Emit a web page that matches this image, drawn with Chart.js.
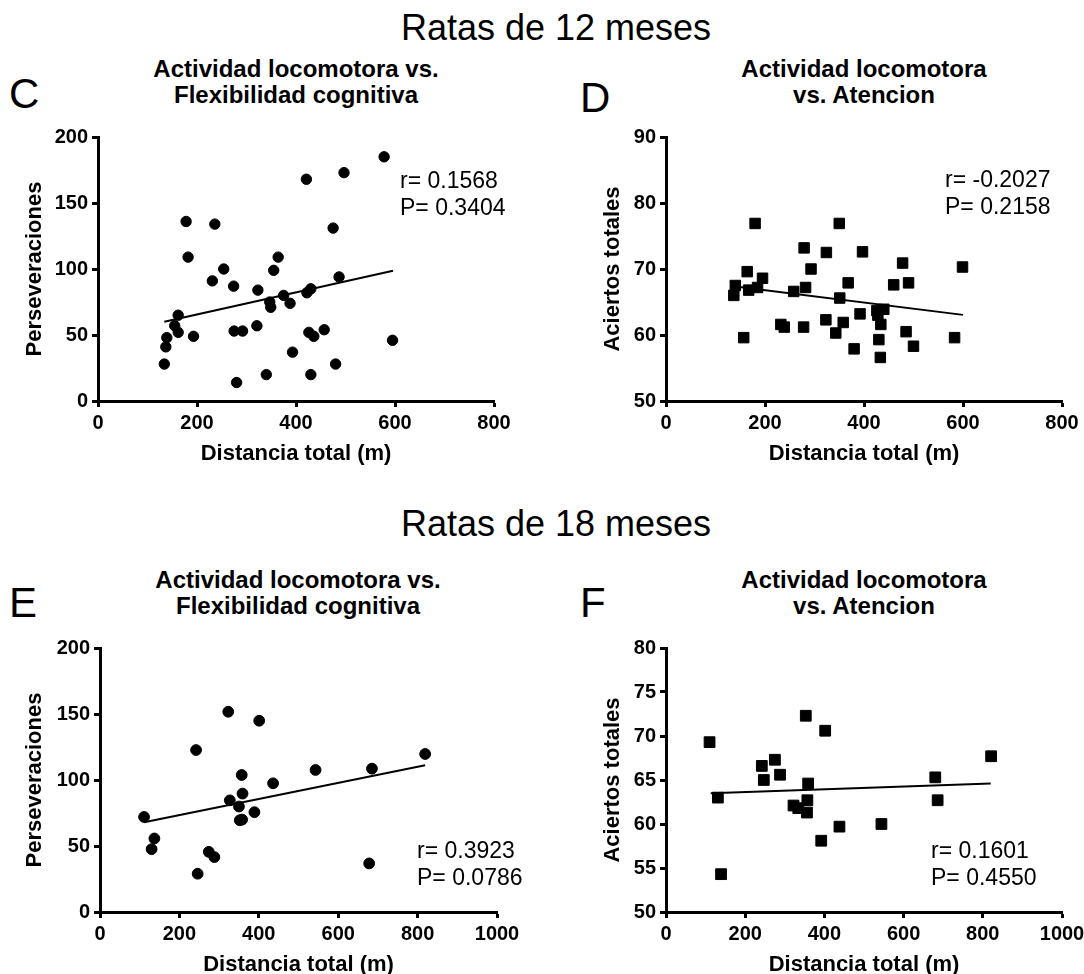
<!DOCTYPE html>
<html>
<head>
<meta charset="utf-8">
<script src="https://cdn.jsdelivr.net/npm/chart.js@4.4.1/dist/chart.umd.min.js"></script>
<style>
    body { margin: 0; background: #fff; }
    #page { position: relative; width: 1084px; height: 974px; overflow: hidden; background: #fff; font-family: 'Liberation Sans', Arial, sans-serif; color: #000; }
    #page canvas { position: absolute; }
    .heading { position: absolute; left: 0; width: 1112px; text-align: center; font-size: 36px; line-height: 36px; }
    .letter { position: absolute; font-size: 42px; line-height: 42px; }
    .panel-title { position: absolute; width: 420px; text-align: center; font-size: 24px; line-height: 26px; font-weight: bold; }
    .stats { position: absolute; font-size: 23px; line-height: 27px; white-space: nowrap; }
</style>
</head>
<body>
<div id="page">
    <div class="heading" style="top: 10px;">Ratas de 12 meses</div>
    <div class="heading" style="top: 506px;">Ratas de 18 meses</div>

    <div class="letter" style="left: 9px; top: 73px;">C</div>
    <div class="letter" style="left: 580px; top: 77px;">D</div>
    <div class="letter" style="left: 9px; top: 582px;">E</div>
    <div class="letter" style="left: 580px; top: 582px;">F</div>

    <div class="panel-title" style="left: 86px; top: 56px;">Actividad locomotora vs.<br>Flexibilidad cognitiva</div>
    <div class="panel-title" style="left: 654px; top: 56px;">Actividad locomotora<br>vs. Atencion</div>
    <div class="panel-title" style="left: 88px; top: 567px;">Actividad locomotora vs.<br>Flexibilidad cognitiva</div>
    <div class="panel-title" style="left: 654px; top: 567px;">Actividad locomotora<br>vs. Atencion</div>

    <canvas id="chartC" width="534" height="360" style="left: 0; top: 117px;"></canvas>
    <canvas id="chartD" width="542" height="360" style="left: 560px; top: 117px;"></canvas>
    <canvas id="chartE" width="537" height="360" style="left: 0; top: 628px;"></canvas>
    <canvas id="chartF" width="542" height="360" style="left: 560px; top: 628px;"></canvas>

    <div class="stats" style="left: 400px; top: 167px;">r= 0.1568<br>P= 0.3404</div>
    <div class="stats" style="left: 945px; top: 166px;">r= -0.2027<br>P= 0.2158</div>
    <div class="stats" style="left: 417px; top: 837px;">r= 0.3923<br>P= 0.0786</div>
    <div class="stats" style="left: 931px; top: 837px;">r= 0.1601<br>P= 0.4550</div>
</div>

<script>
// Ratas de 12 meses - C: distancia vs perseveraciones
const distC = [578, 497, 421, 178, 236, 475, 182, 364, 254, 355, 487, 231, 274, 430, 422, 323, 375, 388, 347, 349,
    162, 155, 162, 139, 137, 134, 193, 275, 292, 321, 426, 436, 457, 393, 595, 480, 340, 430, 280];
const persevC = [185, 173, 168, 136, 134, 131, 109, 109, 100, 99, 94, 91, 87, 85, 82, 84, 80, 74, 75, 71,
    65, 57, 52, 48, 41, 28, 49, 53, 53, 57, 52, 49, 54, 37, 46, 28, 20, 20, 14];
const fitC_x = [134, 596];
const fitC_y = [60.0, 98.6];

// Ratas de 12 meses - D: distancia vs aciertos totales
const distD = [180, 350, 279, 324, 397, 478, 599, 293, 164, 195, 368, 490, 460, 282, 185, 140, 167, 258, 137, 351,
    440, 426, 428, 392, 323, 358, 232, 239, 278, 434, 343, 485, 157, 583, 430, 380, 500, 433];
const aciertosD = [76.9, 76.9, 73.2, 72.5, 72.6, 70.9, 70.3, 70.0, 69.6, 68.6, 67.9, 67.9, 67.6, 67.2, 67.2, 67.5, 66.8, 66.6, 66.0, 65.6,
    63.9, 63.7, 63.0, 63.2, 62.3, 61.9, 61.6, 61.2, 61.2, 61.6, 60.3, 60.5, 59.6, 59.6, 59.3, 57.9, 58.3, 56.6];
const fitD_x = [136, 600];
const fitD_y = [67.4, 63.05];

// Ratas de 18 meses - E: distancia vs perseveraciones
const distE = [242, 819, 685, 543, 357, 436, 359, 327, 350, 389, 111, 352, 358, 137, 130, 274, 288, 246, 678, 323, 401];
const persevE = [122.7, 119.7, 108.6, 107.6, 103.8, 97.5, 89.7, 84.6, 79.9, 75.6, 72.0, 69.5, 70.0, 55.7, 47.6, 45.6, 41.6, 29.0, 36.8, 151.7, 144.9];
const fitE_x = [111, 819];
const fitE_y = [68.0, 111.1];

// Ratas de 18 meses - F: distancia vs aciertos totales
const distF = [353, 402, 110, 275, 242, 288, 247, 359, 821, 680, 686, 131, 357, 322, 334, 356, 438, 544, 392, 139];
const aciertosF = [72.3, 70.6, 69.3, 67.3, 66.6, 65.6, 65.0, 64.6, 67.7, 65.3, 62.7, 63.0, 62.7, 62.1, 61.8, 61.3, 59.7, 60.0, 58.1, 54.3];
const fitF_x = [113, 820];
const fitF_y = [63.5, 64.6];

// tick labels
const xTicks12 = [0, 200, 400, 600, 800];
const xTicks18 = [0, 200, 400, 600, 800, 1000];
const yTicksPersev = [0, 50, 100, 150, 200];
const yTicksD = [50, 60, 70, 80, 90];
const yTicksF = [50, 55, 60, 65, 70, 75, 80];

const FONT = "'Liberation Sans', Arial, sans-serif";

function toPoints(xs, ys) {
    return xs.map((x, i) => ({ x: x, y: ys[i] }));
}

function axis(ticks, title, isX, boxSize) {
    return {
        type: 'linear',
        min: ticks[0],
        max: ticks[ticks.length - 1],
        afterBuildTicks: (s) => { s.ticks = ticks.map(v => ({ value: v })); },
        afterFit: (s) => { if (isX) { s.height = boxSize; } else { s.width = boxSize; } },
        grid: {
            display: true,
            drawOnChartArea: false,
            drawTicks: true,
            tickLength: 6,
            tickWidth: 3,
            tickColor: '#000'
        },
        border: { display: true, color: '#000', width: 3 },
        ticks: {
            color: '#000',
            autoSkip: false,
            maxRotation: 0,
            padding: 4,
            font: { family: FONT, size: 20, weight: 'bold' },
            callback: (v) => String(v)
        },
        title: {
            display: true,
            text: title,
            color: '#000',
            padding: isX ? { top: 0, bottom: 0 } : { top: 4, bottom: 4 },
            font: { family: FONT, size: 22, weight: 'bold' }
        }
    };
}

function makePanel(id, pts, fit, pointStyle, radius, xTicks, yTicks, yTitle, padLeft, yWidth) {
    const ctx = document.getElementById(id);
    if (!ctx) return;

    new Chart(ctx, {
        type: 'scatter',
        data: {
            datasets: [{
                data: pts,
                pointStyle: pointStyle,
                pointRadius: radius,
                pointBackgroundColor: '#000',
                pointBorderColor: '#000',
                pointBorderWidth: 1
            }, {
                data: fit,
                showLine: true,
                borderColor: '#000',
                borderWidth: 2,
                pointRadius: 0,
                fill: false
            }]
        },
        options: {
            responsive: false,
            animation: false,
            devicePixelRatio: 1,
            layout: { padding: { left: padLeft, top: 20, right: 40, bottom: 10 } },
            plugins: {
                legend: { display: false },
                tooltip: { enabled: false }
            },
            scales: {
                x: axis(xTicks, 'Distancia total (m)', true, 66),
                y: axis(yTicks, yTitle, false, yWidth)
            }
        }
    });
}

makePanel('chartC', toPoints(distC, persevC), toPoints(fitC_x, fitC_y), 'circle', 5.2, xTicks12, yTicksPersev, 'Perseveraciones', 18, 80);
makePanel('chartD', toPoints(distD, aciertosD), toPoints(fitD_x, fitD_y), 'rect', 7.4, xTicks12, yTicksD, 'Aciertos totales', 36, 70);
makePanel('chartE', toPoints(distE, persevE), toPoints(fitE_x, fitE_y), 'circle', 5.4, xTicks18, yTicksPersev, 'Perseveraciones', 18, 82);
makePanel('chartF', toPoints(distF, aciertosF), toPoints(fitF_x, fitF_y), 'rect', 7.6, xTicks18, yTicksF, 'Aciertos totales', 36, 70);
</script>
</body>
</html>
